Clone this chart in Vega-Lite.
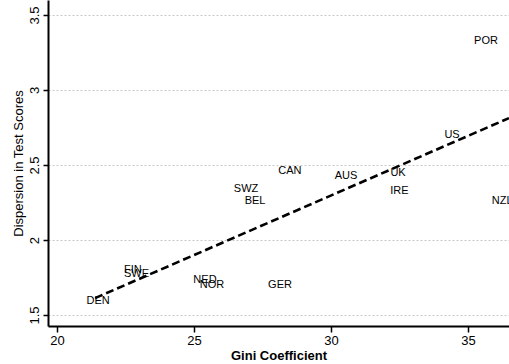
{
  "$schema": "https://vega.github.io/schema/vega-lite/v6.json",
  "width": 461,
  "height": 326,
  "autosize": {"type": "none"},
  "padding": {"left": 48, "top": 0, "right": 0, "bottom": 38},
  "background": "white",
  "config": {
    "view": {"stroke": null},
    "font": "Liberation Sans"
  },
  "datasets": {
    "countries": [
      {"country": "POR", "gini": 35.66, "dispersion": 3.33},
      {"country": "US", "gini": 34.42, "dispersion": 2.70},
      {"country": "UK", "gini": 32.45, "dispersion": 2.45},
      {"country": "IRE", "gini": 32.5, "dispersion": 2.33},
      {"country": "AUS", "gini": 30.55, "dispersion": 2.43},
      {"country": "CAN", "gini": 28.5, "dispersion": 2.46},
      {"country": "SWZ", "gini": 26.9, "dispersion": 2.34},
      {"country": "BEL", "gini": 27.23, "dispersion": 2.26},
      {"country": "NZL", "gini": 36.25, "dispersion": 2.26},
      {"country": "FIN", "gini": 22.77, "dispersion": 1.80},
      {"country": "SWE", "gini": 22.9, "dispersion": 1.775},
      {"country": "NED", "gini": 25.4, "dispersion": 1.735},
      {"country": "NOR", "gini": 25.66, "dispersion": 1.70},
      {"country": "GER", "gini": 28.14, "dispersion": 1.70},
      {"country": "DEN", "gini": 21.5, "dispersion": 1.595}
    ],
    "fit": [
      {"gini": 21.39, "dispersion": 1.613},
      {"gini": 36.5, "dispersion": 2.813}
    ]
  },
  "layer": [
    {
      "data": {"name": "fit"},
      "mark": {"type": "line", "color": "black", "strokeWidth": 2.6, "strokeDash": [8, 4], "clip": true},
      "encoding": {
        "x": {
          "field": "gini", "type": "quantitative",
          "scale": {"domain": [19.67, 36.5], "nice": false, "zero": false},
          "axis": {
            "values": [20, 25, 30, 35],
            "title": "Gini Coefficient",
            "titleFontSize": 13, "titleFontWeight": "bold", "titleColor": "black",
            "titlePadding": 2,
            "labelFontSize": 13, "labelColor": "black", "labelPadding": 2,
            "domainColor": "black", "domainWidth": 2,
            "tickColor": "black", "tickWidth": 1.5, "tickSize": 6,
            "grid": false
          }
        },
        "y": {
          "field": "dispersion", "type": "quantitative",
          "scale": {"domain": [1.427, 3.6], "nice": false, "zero": false},
          "axis": {
            "values": [1.5, 2, 2.5, 3, 3.5],
            "format": "~g",
            "title": "Dispersion in Test Scores",
            "titleFontSize": 13, "titleFontWeight": "normal", "titleColor": "black",
            "titlePadding": 3,
            "labelFontSize": 13, "labelColor": "black", "labelAngle": -90,
            "labelAlign": "center", "labelBaseline": "bottom", "labelPadding": 2,
            "domainColor": "black", "domainWidth": 2,
            "tickColor": "black", "tickWidth": 1.5, "tickSize": 5,
            "grid": true, "gridColor": "#c8c8c8", "gridDash": [2, 2], "gridWidth": 1
          }
        }
      }
    },
    {
      "data": {"name": "countries"},
      "mark": {"type": "text", "fontSize": 11, "color": "black", "align": "center", "baseline": "middle", "clip": true},
      "encoding": {
        "x": {"field": "gini", "type": "quantitative"},
        "y": {"field": "dispersion", "type": "quantitative"},
        "text": {"field": "country"}
      }
    }
  ]
}
